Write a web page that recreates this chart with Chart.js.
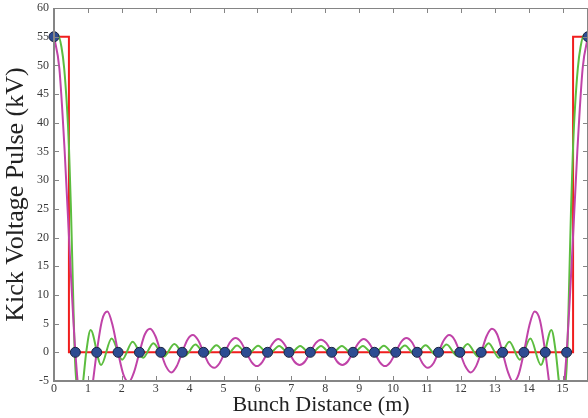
<!DOCTYPE html>
<html>
<head>
<meta charset="utf-8">
<title>Kick Voltage Pulse</title>
<script src="https://cdn.jsdelivr.net/npm/chart.js@4.4.1/dist/chart.umd.min.js"></script>
<style>
  html, body { margin: 0; padding: 0; background: #fff; }
  #wrap { width: 588px; height: 418px; }
</style>
</head>
<body>
<div id="wrap"><canvas id="pulse" width="588" height="418"></canvas></div>
<script>
// ============================================
//  Kick voltage pulse vs bunch distance
// ============================================

// axis ticks
const xTicks = [0, 1, 2, 3, 4, 5, 6, 7, 8, 9, 10, 11, 12, 13, 14, 15];
const yTicks = [-5, 0, 5, 10, 15, 20, 25, 30, 35, 40, 45, 50, 55, 60];

// bunch positions (blue dots)
const bunchX = [0, 0.63, 1.26, 1.89, 2.52, 3.15, 3.78, 4.41, 5.04, 5.67, 6.30, 6.93, 7.56,
                8.19, 8.82, 9.45, 10.08, 10.71, 11.34, 11.97, 12.60, 13.23, 13.86, 14.49, 15.12, 15.75];
const bunchY = [55, 0, 0, 0, 0, 0, 0, 0, 0, 0, 0, 0, 0,
                0, 0, 0, 0, 0, 0, 0, 0, 0, 0, 0, 0, 55];

// ideal square pulse (red)
const pulseX = [0, 0.44, 0.44, 15.31, 15.31, 15.75];
const pulseY = [55, 55, 0, 0, 55, 55];

// green waveform, read at lobes / extrema
const greenX = [0, 0.12, 0.22, 0.3, 0.38, 0.44, 0.5, 0.56, 0.61, 0.68, 0.77, 0.86, 0.95,
  1.08, 1.39, 1.70, 2.01, 2.32, 2.63, 2.93, 3.24, 3.55, 3.86, 4.17, 4.48, 4.79, 5.10, 5.40,
  5.71, 6.02, 6.33, 6.64, 6.95, 7.26, 7.57, 7.875, 8.18, 8.49, 8.80, 9.11, 9.42, 9.73, 10.04,
  10.35, 10.65, 10.96, 11.27, 11.58, 11.89, 12.20, 12.51, 12.82, 13.12, 13.43, 13.74, 14.05,
  14.36, 14.67, 14.80, 14.89, 14.98, 15.07, 15.14, 15.19, 15.25, 15.31, 15.37, 15.45, 15.53,
  15.63, 15.75];
const greenY = [55, 55.3, 53.2, 49.5, 43, 36, 25, 11, 0, -6.5, -8.5, -5, 0,
  3.9, -2.2, 2.4, -1.3, 1.85, -0.95, 1.6, -0.75, 1.45, -0.6, 1.35, -0.5, 1.25, -0.45, 1.2,
  -0.4, 1.15, -0.38, 1.12, -0.36, 1.1, -0.35, 1.1, -0.35, 1.1, -0.36, 1.12, -0.38, 1.15, -0.4,
  1.2, -0.45, 1.25, -0.5, 1.35, -0.6, 1.45, -0.75, 1.6, -0.95, 1.85, -1.3, 2.4,
  -2.2, 3.9, 0, -5, -8.5, -6.5, 0, 11, 25, 36, 43, 49.5, 53.2,
  55.3, 55];

// magenta waveform, sampled every quarter bunch spacing
const magentaStep = 0.1575;
const magentaY = [55, 49.5, 35.0, 16.5, 0, -9.9, -11.7, -7.1, 0, 5.6, 7.1, 4.6, 0,
  -3.9, -5.2, -3.4, 0, 3.1, 4.1, 2.8, 0, -2.5, -3.5, -2.4, 0, 2.2, 3.0, 2.1, 0,
  -2.0, -2.7, -1.9, 0, 1.8, 2.5, 1.8, 0, -1.7, -2.4, -1.7, 0, 1.6, 2.3, 1.6, 0,
  -1.6, -2.2, -1.6, 0, 1.6, 2.2, 1.6, 0, -1.6, -2.2, -1.6, 0, 1.6, 2.3, 1.6, 0,
  -1.7, -2.4, -1.7, 0, 1.8, 2.5, 1.8, 0, -1.9, -2.7, -2.0, 0, 2.1, 3.0, 2.2, 0,
  -2.4, -3.5, -2.5, 0, 2.8, 4.1, 3.1, 0, -3.4, -5.2, -3.9, 0, 4.6, 7.1, 5.6, 0,
  -7.1, -11.7, -9.9, 0, 16.5, 35.0, 49.5, 55];

const pts = (xs, ys) => xs.map((x, i) => ({ x, y: ys[i] }));

// ── frame: box + inward ticks, MATLAB style ──
const frame = {
  id: "frame",
  afterDatasetsDraw(chart) {
    const { ctx, chartArea: a, scales: { x, y } } = chart;
    const seg = (x1, y1, x2, y2) => { ctx.beginPath(); ctx.moveTo(x1, y1); ctx.lineTo(x2, y2); ctx.stroke(); };
    ctx.save();
    ctx.strokeStyle = "#858585";
    ctx.lineWidth = 1;
    seg(a.left, a.top + 0.5, a.right, a.top + 0.5);
    seg(a.right - 0.5, a.top, a.right - 0.5, a.bottom);
    xTicks.forEach(v => {
      const px = Math.round(x.getPixelForValue(v)) + 0.5;
      seg(px, a.bottom, px, a.bottom - 5);
      seg(px, a.top, px, a.top + 5);
    });
    yTicks.forEach(v => {
      const py = Math.round(y.getPixelForValue(v)) + 0.5;
      seg(a.left, py, a.left + 5, py);
      seg(a.right, py, a.right - 5, py);
    });
    ctx.lineWidth = 2;
    seg(a.left, a.top, a.left, a.bottom + 1);
    seg(a.left - 1, a.bottom, a.right, a.bottom);
    ctx.restore();
  }
};

Chart.defaults.font.family = "'Liberation Serif', 'Times New Roman', serif";

new Chart(document.getElementById("pulse"), {
  type: "line",
  data: {
    datasets: [
      {
        type: "scatter",
        data: pts(bunchX, bunchY),
        pointRadius: 5,
        pointBackgroundColor: "#2d4c92",
        pointBorderColor: "#1b2340",
        pointBorderWidth: 1,
        showLine: false,
        clip: false,
        order: 0
      },
      {
        data: magentaY.map((v, i) => ({ x: i * magentaStep, y: v })),
        borderColor: "#c043a8",
        borderWidth: 2,
        pointRadius: 0,
        cubicInterpolationMode: "monotone",
        order: 1
      },
      {
        data: pts(greenX, greenY),
        borderColor: "#5cbd3f",
        borderWidth: 2,
        pointRadius: 0,
        cubicInterpolationMode: "monotone",
        order: 2
      },
      {
        data: pts(pulseX, pulseY),
        borderColor: "#f01e1e",
        borderWidth: 2,
        pointRadius: 0,
        tension: 0,
        order: 3
      }
    ]
  },
  options: {
    responsive: false,
    animation: false,
    devicePixelRatio: 1,
    layout: { autoPadding: false, padding: { top: 8, left: 0, right: 0, bottom: 0 } },
    plugins: { legend: { display: false }, tooltip: { enabled: false } },
    scales: {
      x: {
        type: "linear",
        min: 0,
        max: 15.75,
        afterBuildTicks: s => { s.ticks = xTicks.map(v => ({ value: v })); },
        afterFit: s => { s.height = 37; s.paddingLeft = 0; s.paddingRight = 0; },
        grid: { display: false, drawTicks: false },
        border: { display: false },
        ticks: { color: "#3a3a3a", font: { size: 12 }, padding: 1, maxRotation: 0, autoSkip: false },
        title: {
          display: true,
          text: "Bunch Distance (m)",
          color: "#222",
          font: { size: 22 },
          padding: { top: 0, bottom: 0 }
        }
      },
      y: {
        type: "linear",
        min: -5,
        max: 60,
        afterBuildTicks: s => { s.ticks = yTicks.map(v => ({ value: v })); },
        afterFit: s => { s.width = 54; s.paddingTop = 0; s.paddingBottom = 0; },
        grid: { display: false, drawTicks: false },
        border: { display: false },
        ticks: { color: "#3a3a3a", font: { size: 12 }, padding: 5, autoSkip: false },
        title: {
          display: true,
          text: "Kick Voltage Pulse (kV)",
          color: "#222",
          font: { size: 26 },
          padding: { top: 1, bottom: 0 }
        }
      }
    }
  },
  plugins: [frame]
});
</script>
</body>
</html>
